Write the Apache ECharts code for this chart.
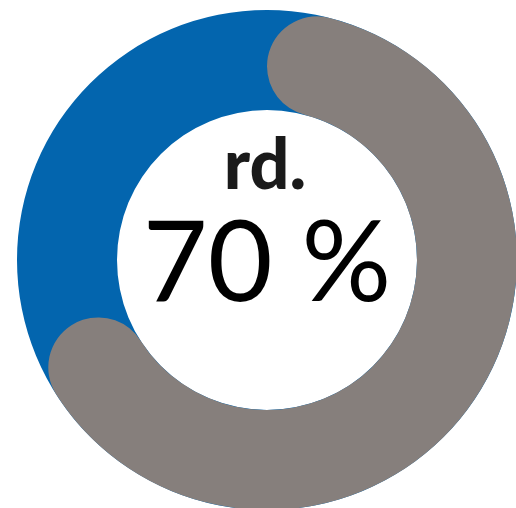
<!DOCTYPE html>
<html>
<head>
<meta charset="utf-8">
<style>
  html, body { margin: 0; padding: 0; background: #fff; }
  #chart { width: 516px; height: 508px; }
</style>
<script src="https://cdn.jsdelivr.net/npm/echarts@6/dist/echarts.min.js"></script>
</head>
<body>
<div id="chart"></div>
<script>
// Daten
const categories = ['Anteil', 'Rest']
const values = [70, 30]
const prefix = 'rd.'

const BLUE = '#0365AE'
const GRAY = '#867F7C'
const CENTER = [267, 260]
const RADIUS = [150, 250]

const chart = echarts.init(document.getElementById('chart'))

const option = {
  animation: false,
  backgroundColor: '#fff',
  graphic: [
    {
      type: 'text',
      z: 10,
      style: {
        text: prefix,
        x: 265,
        y: 166,
        align: 'center',
        verticalAlign: 'middle',
        fontFamily: 'Lato',
        fontWeight: 900,
        fontSize: 70,
        fill: '#1a1a1a',
      },
    },
    {
      type: 'text',
      z: 10,
      style: {
        text: values[0] + ' %',
        x: 267,
        y: 265,
        align: 'center',
        verticalAlign: 'middle',
        fontFamily: 'Lato',
        fontWeight: 'normal',
        fontSize: 112,
        fill: '#000',
      },
    },
  ],
  series: [
    // blauer Hintergrundring
    {
      type: 'pie',
      silent: true,
      center: CENTER,
      radius: RADIUS,
      label: { show: false },
      labelLine: { show: false },
      emphasis: { disabled: true },
      data: [{ value: values[0] + values[1], itemStyle: { color: BLUE } }],
    },
    // grauer Bogen mit runden Enden
    {
      type: 'pie',
      silent: true,
      center: CENTER,
      radius: RADIUS,
      startAngle: 90,
      clockwise: true,
      label: { show: false },
      labelLine: { show: false },
      emphasis: { disabled: true },
      itemStyle: { borderRadius: 50, borderWidth: 0 },
      data: [
        { name: categories[0], value: values[0], itemStyle: { color: GRAY } },
        { name: categories[1], value: values[1], itemStyle: { color: 'transparent' } },
      ],
    },
  ],
}

chart.setOption(option)
</script>
</body>
</html>
